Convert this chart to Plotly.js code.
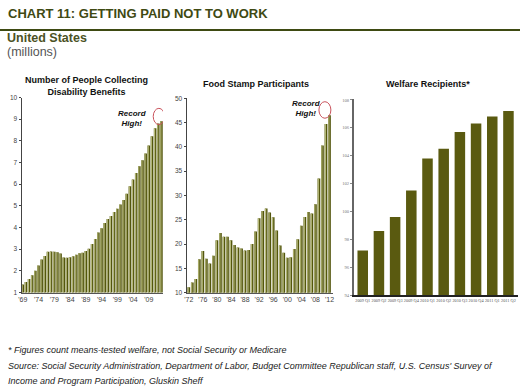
<!DOCTYPE html>
<html>
<head>
<meta charset="utf-8">
<script src="https://cdn.plot.ly/plotly-3.0.1.min.js"></script>
<style>
html,body{margin:0;padding:0;background:#fff;}
#chart{width:520px;height:388px;}
</style>
</head>
<body>
<div id="chart"></div>
<script>
// ---- Data ----
const disabilityYears = [1969,1970,1971,1972,1973,1974,1975,1976,1977,1978,1979,1980,1981,1982,1983,1984,1985,1986,1987,1988,1989,1990,1991,1992,1993,1994,1995,1996,1997,1998,1999,2000,2001,2002,2003,2004,2005,2006,2007,2008,2009,2010,2011,2012,2013];
const disabilityValues = [1.37,1.49,1.62,1.80,2.00,2.25,2.52,2.68,2.88,2.89,2.88,2.86,2.80,2.62,2.60,2.63,2.67,2.74,2.81,2.84,2.92,3.02,3.24,3.47,3.77,3.96,4.21,4.39,4.53,4.71,4.87,5.06,5.27,5.56,5.90,6.21,6.52,6.83,7.10,7.42,7.78,8.21,8.58,8.80,8.90];
const disabilityTickVals = [1969,1974,1979,1984,1989,1994,1999,2004,2009];
const disabilityTickText = ["'69","'74","'79","'84","'89","'94","'99","'04","'09"];

const foodYears = [1972,1973,1974,1975,1976,1977,1978,1979,1980,1981,1982,1983,1984,1985,1986,1987,1988,1989,1990,1991,1992,1993,1994,1995,1996,1997,1998,1999,2000,2001,2002,2003,2004,2005,2006,2007,2008,2009,2010,2011,2012];
const foodValues = [11.1,12.1,12.8,16.9,18.6,17.0,16.0,17.6,20.8,22.3,21.5,21.5,20.8,19.8,19.3,19.1,18.7,18.8,20.0,22.6,25.3,26.8,27.3,26.5,25.5,22.8,19.7,18.2,17.2,17.3,19.0,21.0,23.8,25.6,26.6,26.3,28.2,33.5,40.3,44.7,46.5];
const foodTickVals = [1972,1976,1980,1984,1988,1992,1996,2000,2004,2008,2012];
const foodTickText = ["'72","'76","'80","'84","'88","'92","'96","'00","'04","'08","'12"];

const welfareQuarters = ["2009 Q1","2009 Q2","2009 Q3","2009 Q4","2010 Q1","2010 Q2","2010 Q3","2010 Q4","2011 Q1","2011 Q2"];
const welfareValues = [97.2,98.6,99.6,101.5,103.8,104.5,105.7,106.3,106.8,107.2];
const welfareTickVals = [94,96,98,100,102,104,106,108];

// ---- helpers ----
const W = 520, H = 388;
const px = x => x / W;
const py = y => 1 - y / H;

const DARK = '#53560e';
const LIGHT = '#b5b878';
const SANS = 'Liberation Sans, Arial, sans-serif';
const SERIF = 'Liberation Serif, Times New Roman, serif';

const traces = [
  {type:'bar', x:disabilityYears, y:disabilityValues, xaxis:'x', yaxis:'y', width:0.82, offset:-0.41, marker:{color:DARK}, hoverinfo:'skip'},
  {type:'bar', x:disabilityYears, y:disabilityValues, xaxis:'x', yaxis:'y', width:0.36, offset:-0.36, marker:{color:LIGHT}, hoverinfo:'skip'},
  {type:'bar', x:foodYears, y:foodValues, xaxis:'x2', yaxis:'y2', width:0.78, offset:-0.39, marker:{color:DARK}, hoverinfo:'skip'},
  {type:'bar', x:foodYears, y:foodValues, xaxis:'x2', yaxis:'y2', width:0.34, offset:-0.34, marker:{color:LIGHT}, hoverinfo:'skip'},
  {type:'bar', x:welfareQuarters, y:welfareValues, xaxis:'x3', yaxis:'y3', width:0.65, marker:{color:'#5a5a10'}, hoverinfo:'skip'}
];

const tickFont = {family:SANS, size:6.5, color:'#444'};

const layout = {
  width:W, height:H,
  margin:{l:0,r:0,t:0,b:0},
  paper_bgcolor:'#fff', plot_bgcolor:'#fff',
  showlegend:false,
  barmode:'overlay',
  xaxis:{domain:[px(21.5),px(163)], range:[1968.6,2013.5], anchor:'y',
    tickvals:disabilityTickVals, ticktext:disabilityTickText, tickfont:{family:SANS,size:7,color:'#444'},
    showgrid:false, zeroline:false, showline:true, linecolor:'#555', linewidth:1, ticks:'', tickangle:0},
  yaxis:{domain:[py(292.5),py(97.5)], range:[1,10], anchor:'x', dtick:1,
    tickfont:tickFont, showgrid:false, zeroline:false, showline:true, linecolor:'#444', linewidth:1,
    ticks:'outside', ticklen:2, tickcolor:'#444'},
  xaxis2:{domain:[px(186.5),px(333)], range:[1971.35,2013.0], anchor:'y2',
    tickvals:foodTickVals, ticktext:foodTickText, tickfont:{family:SANS,size:7,color:'#444'},
    showgrid:false, zeroline:false, showline:true, linecolor:'#555', linewidth:1, ticks:'', tickangle:0},
  yaxis2:{domain:[py(292.7),py(98.3)], range:[10,50], anchor:'x2', dtick:5,
    tickfont:tickFont, showgrid:false, zeroline:false, showline:true, linecolor:'#444', linewidth:1,
    ticks:'outside', ticklen:2, tickcolor:'#444'},
  xaxis3:{domain:[px(354),px(518)], range:[-0.54,9.59], anchor:'y3', type:'category',
    tickfont:{family:SERIF,size:4.3,color:'#555'}, tickangle:0,
    showgrid:false, zeroline:false, showline:true, linecolor:'#222', linewidth:2, ticks:''},
  yaxis3:{domain:[py(295),py(98.5)], range:[94,108.1], anchor:'x3',
    tickvals:welfareTickVals, tickfont:{family:SERIF,size:4.6,color:'#777'},
    showgrid:false, zeroline:false, showline:true, linecolor:'#666', linewidth:2,
    ticks:'outside', ticklen:2, tickcolor:'#888'},
  shapes:[
    {type:'line', xref:'paper', yref:'paper', x0:0, x1:1, y0:py(30), y1:py(30), line:{color:'#3e4a12', width:2}},
    {type:'circle', xref:'x', yref:'y', x0:2010.4, x1:2014.0, y0:8.75, y1:9.5, line:{color:'#c9535c', width:1}},
    {type:'circle', xref:'x2', yref:'y2', x0:2009.0, x1:2012.4, y0:45.9, y1:49.3, line:{color:'#c9535c', width:1}}
  ],
  annotations:[
    {xref:'paper', yref:'paper', x:px(6), y:py(14), xanchor:'left', yanchor:'middle', showarrow:false,
      text:'<b>CHART 11: GETTING PAID NOT TO WORK</b>', font:{family:SANS, size:13, color:'#3f4a13'}},
    {xref:'paper', yref:'paper', x:px(5), y:py(38), xanchor:'left', yanchor:'middle', showarrow:false,
      text:'<b>United States</b>', font:{family:SANS, size:12.5, color:'#4b5224'}},
    {xref:'paper', yref:'paper', x:px(5), y:py(52), xanchor:'left', yanchor:'middle', showarrow:false,
      text:'(millions)', font:{family:SANS, size:12.5, color:'#555'}},
    {xref:'paper', yref:'paper', x:px(86), y:py(86), xanchor:'center', yanchor:'middle', showarrow:false,
      text:'<b>Number of People Collecting<br>Disability Benefits</b>', font:{family:SANS, size:9, color:'#111'}},
    {xref:'paper', yref:'paper', x:px(256), y:py(84), xanchor:'center', yanchor:'middle', showarrow:false,
      text:'<b>Food Stamp Participants</b>', font:{family:SANS, size:9, color:'#111'}},
    {xref:'paper', yref:'paper', x:px(428), y:py(84), xanchor:'center', yanchor:'middle', showarrow:false,
      text:'<b>Welfare Recipients*</b>', font:{family:SANS, size:9, color:'#111'}},
    {xref:'paper', yref:'paper', x:px(132), y:py(118), xanchor:'center', yanchor:'middle', showarrow:false,
      text:'<b><i>Record<br>High!</i></b>', font:{family:SANS, size:8, color:'#111'}},
    {xref:'paper', yref:'paper', x:px(306), y:py(108), xanchor:'center', yanchor:'middle', showarrow:false,
      text:'<b><i>Record<br>High!</i></b>', font:{family:SANS, size:8, color:'#111'}},
    {xref:'paper', yref:'paper', x:px(6), y:py(350), xanchor:'left', yanchor:'middle', showarrow:false,
      text:'<i>* Figures count means-tested welfare, not Social Security or Medicare</i>', font:{family:SANS, size:9, color:'#222'}},
    {xref:'paper', yref:'paper', x:px(6), y:py(365.5), xanchor:'left', yanchor:'middle', showarrow:false,
      text:"<i>Source: Social Security Administration, Department of Labor, Budget Committee Republican staff, U.S. Census' Survey of</i>", font:{family:SANS, size:9, color:'#222'}},
    {xref:'paper', yref:'paper', x:px(6), y:py(381), xanchor:'left', yanchor:'middle', showarrow:false,
      text:'<i>Income and Program Participation, Gluskin Sheff</i>', font:{family:SANS, size:9, color:'#222'}}
  ]
};

Plotly.newPlot('chart', traces, layout, {staticPlot:true, displayModeBar:false});
</script>
</body>
</html>
